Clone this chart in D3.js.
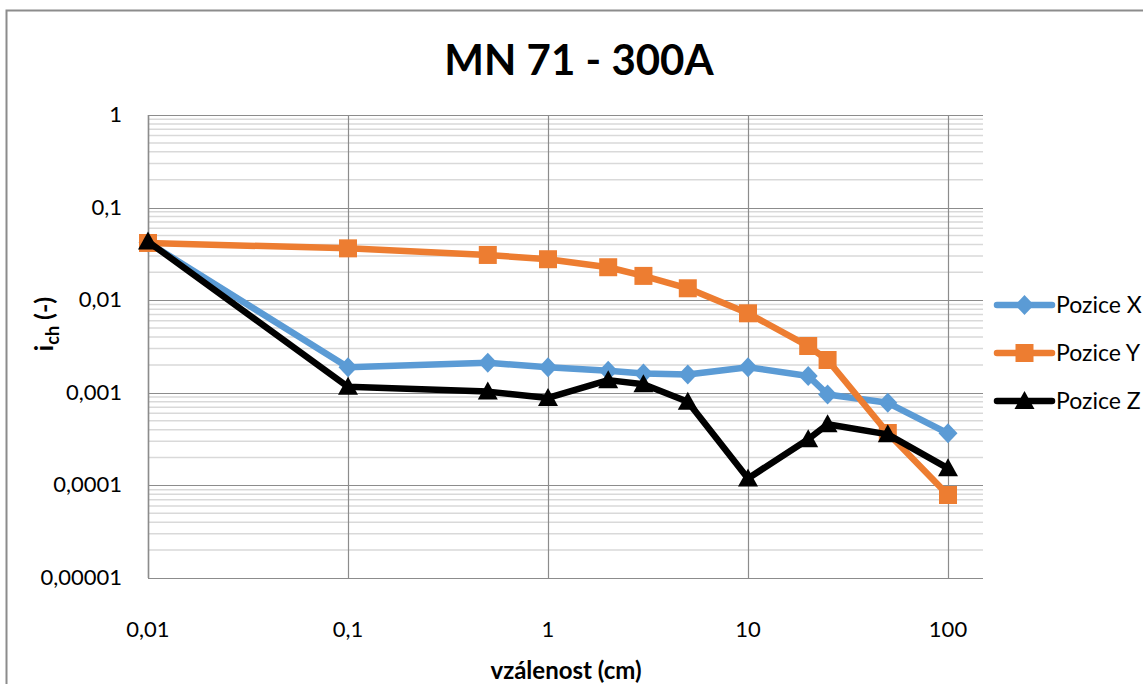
<!DOCTYPE html>
<html>
<head>
<meta charset="utf-8">
<script src="https://cdn.jsdelivr.net/npm/d3@7"></script>
<style>
  body { margin: 0; background: #fff; }
  svg text { font-family: Lato, "Open Sans", sans-serif; }
</style>
</head>
<body>
<div id="chart"></div>
<script>
// distances (cm)
const distances = [0.01, 0.1, 0.5, 1, 2, 3, 5, 10, 20, 25, 50, 100];
// values
const poziceX = [0.042, 0.00189, 0.00211, 0.00189, 0.00173, 0.00162, 0.00158, 0.00189, 0.00152, 0.00096, 0.00078, 0.000365];
const poziceY = [0.0415, 0.0363, 0.0308, 0.0277, 0.0227, 0.0183, 0.01345, 0.00722, 0.0032, 0.00226, 0.000368, 0.0000788];
const poziceZ = [0.043, 0.00116, 0.00103, 0.00088, 0.00137, 0.00124, 0.0008, 0.000119, 0.000315, 0.000457, 0.000356, 0.000153];
const seriesNames = ["Pozice X", "Pozice Y", "Pozice Z"];
const xTicks = [0.01, 0.1, 1, 10, 100];
const yTicks = [1, 0.1, 0.01, 0.001, 0.0001, 0.00001];

const W = 1143, H = 684;
const svg = d3.select("#chart").append("svg")
    .attr("width", W).attr("height", H);

// chart frame
svg.append("rect")
    .attr("x", 6.5).attr("y", 10.5)
    .attr("width", W + 20).attr("height", H + 20)
    .attr("fill", "none").attr("stroke", "#8c8c8c").attr("stroke-width", 2);

const plotLeft = 148, plotTop = 115, plotBottom = 578, plotRight = 983;

const x = d3.scaleLog().domain([0.01, 100]).range([plotLeft, 948]);
const y = d3.scaleLog().domain([0.00001, 1]).range([plotBottom, plotTop]);

const g = svg.append("g");

// minor horizontal grid
const minor = [];
for (let e = -5; e < 0; e++) {
    for (let m = 2; m <= 9; m++) minor.push(m * Math.pow(10, e));
}
g.selectAll(".minor").data(minor).enter().append("line")
    .attr("x1", plotLeft).attr("x2", plotRight)
    .attr("y1", d => y(d)).attr("y2", d => y(d))
    .attr("stroke", "#d9d9d9").attr("stroke-width", 1.5);

// major horizontal grid
g.selectAll(".hmajor").data(yTicks).enter().append("line")
    .attr("x1", plotLeft).attr("x2", plotRight)
    .attr("y1", d => Math.round(y(d)) + 0.5).attr("y2", d => Math.round(y(d)) + 0.5)
    .attr("stroke", "#8c8c8c").attr("stroke-width", 1.2);

// vertical grid
g.selectAll(".vmajor").data(xTicks).enter().append("line")
    .attr("x1", d => Math.round(x(d)) + 0.5).attr("x2", d => Math.round(x(d)) + 0.5)
    .attr("y1", plotTop).attr("y2", plotBottom)
    .attr("stroke", "#8c8c8c").attr("stroke-width", 1.2);

// axis line
g.append("line").attr("x1", plotLeft + 0.5).attr("x2", plotLeft + 0.5)
    .attr("y1", plotTop).attr("y2", plotBottom)
    .attr("stroke", "#8c8c8c").attr("stroke-width", 1.5);

// tick labels
const fmt = d => d === 0.00001 ? "0,00001" : String(d).replace(".", ",");
svg.selectAll(".ylab").data(yTicks).enter().append("text")
    .attr("x", 122).attr("y", d => y(d) + 7)
    .attr("text-anchor", "end").attr("font-size", 22)
    .text(fmt);

svg.selectAll(".xlab").data(xTicks).enter().append("text")
    .attr("x", d => x(d)).attr("y", 637)
    .attr("text-anchor", "middle").attr("font-size", 22)
    .text(fmt);

// titles
svg.append("text").attr("x", 579).attr("y", 75)
    .attr("text-anchor", "middle").attr("font-size", 42).attr("font-weight", "bold")
    .text("MN 71 - 300A");

svg.append("text").attr("x", 566).attr("y", 679)
    .attr("text-anchor", "middle").attr("font-size", 24).attr("font-weight", "bold")
    .text("vzálenost (cm)");

const yt = svg.append("text")
    .attr("transform", "translate(53,324) rotate(-90)")
    .attr("text-anchor", "middle").attr("font-size", 25).attr("font-weight", "bold");
yt.append("tspan").text("i");
yt.append("tspan").attr("font-size", 18).attr("dy", 6).text("ch");
yt.append("tspan").attr("dy", -6).text(" (-)");

// marker shapes
const diamond = {
    draw(ctx) {
        ctx.moveTo(0, -10); ctx.lineTo(9.5, 0); ctx.lineTo(0, 10); ctx.lineTo(-9.5, 0); ctx.closePath();
    }
};
const triangle = {
    draw(ctx) {
        ctx.moveTo(0, -10); ctx.lineTo(10, 8); ctx.lineTo(-10, 8); ctx.closePath();
    }
};

const series = [
    { name: seriesNames[0], values: poziceX, color: "#5b9bd5", marker: diamond, size: 64 },
    { name: seriesNames[1], values: poziceY, color: "#ed7d31", marker: d3.symbolSquare, size: 324 },
    { name: seriesNames[2], values: poziceZ, color: "#000000", marker: triangle, size: 64 }
];

const line = d3.line().x(d => x(d[0])).y(d => y(d[1]));

series.forEach(s => {
    const pts = distances.map((d, i) => [d, s.values[i]]);
    const sg = g.append("g");
    sg.append("path").datum(pts)
        .attr("d", line)
        .attr("fill", "none").attr("stroke", s.color)
        .attr("stroke-width", 6.5).attr("stroke-linejoin", "round");
    sg.selectAll("path.mk").data(pts).enter().append("path")
        .attr("class", "mk")
        .attr("transform", d => `translate(${x(d[0])},${y(d[1])})`)
        .attr("d", d3.symbol().type(s.marker).size(s.size))
        .attr("fill", s.color);
});

// legend
const legY = [305, 353, 401];
series.forEach((s, i) => {
    const lg = svg.append("g").attr("transform", `translate(997,${legY[i]})`);
    lg.append("line").attr("x1", 0).attr("x2", 55).attr("y1", 0).attr("y2", 0)
        .attr("stroke", s.color).attr("stroke-width", 6.5).attr("stroke-linecap", "round");
    lg.append("path").attr("transform", "translate(27.5,0)")
        .attr("d", d3.symbol().type(s.marker).size(s.size))
        .attr("fill", s.color);
    lg.append("text").attr("x", 59).attr("y", 8)
        .attr("font-size", 23).text(s.name);
});
</script>
</body>
</html>
